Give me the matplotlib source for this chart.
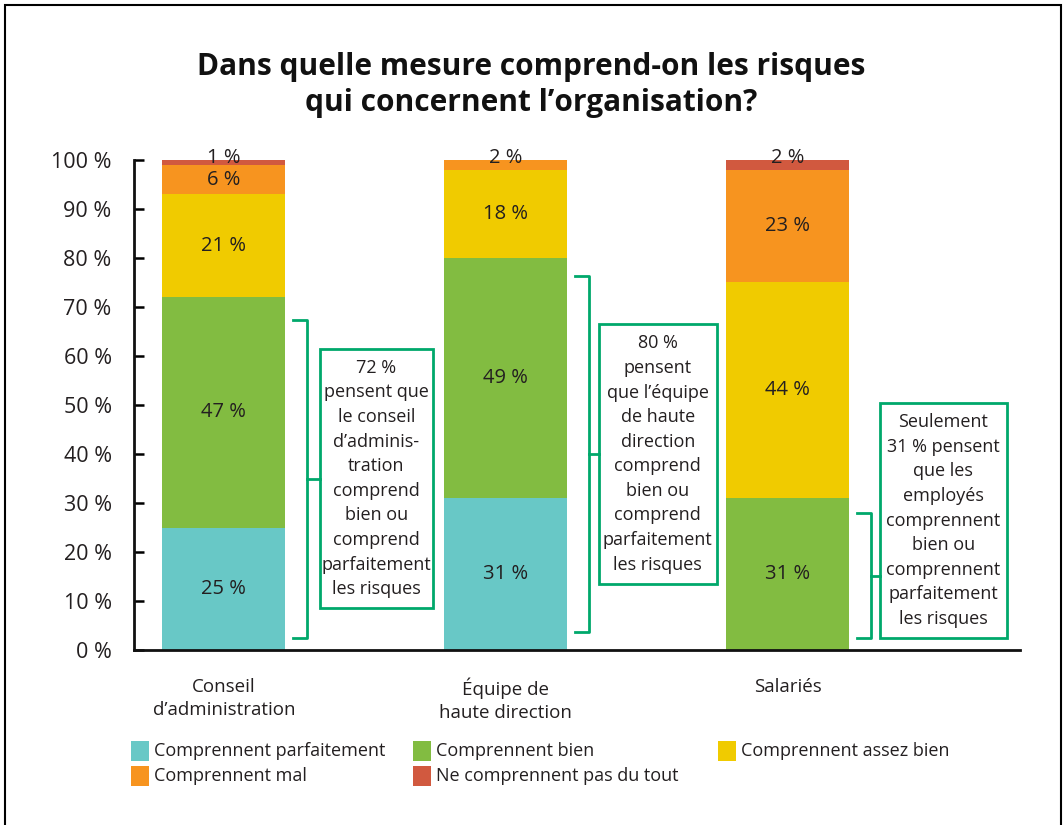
import numpy as np
import matplotlib.pyplot as plt
from matplotlib.patches import Rectangle

plt.rcParams['font.family'] = ['Open Sans', 'DejaVu Sans']

# ===================== Data =====================
groups = ['Conseil\nd’administration', 'Équipe de\nhaute direction', 'Salariés']
levels = ['Comprennent parfaitement', 'Comprennent bien', 'Comprennent assez bien',
          'Comprennent mal', 'Ne comprennent pas du tout']
colors = ['#68C8C6', '#82BC41', '#F0CB00', '#F7941F', '#D1593F']

parfaitement = [25, 31, 0]
bien = [47, 49, 31]
assez_bien = [21, 18, 44]
mal = [6, 2, 23]
pas_du_tout = [1, 0, 2]
series = [parfaitement, bien, assez_bien, mal, pas_du_tout]

yticks = [0, 10, 20, 30, 40, 50, 60, 70, 80, 90, 100]

notes = [
    '72 %\npensent que\nle conseil\nd’adminis-\ntration\ncomprend\nbien ou\ncomprend\nparfaitement\nles risques',
    '80 %\npensent\nque l’équipe\nde haute\ndirection\ncomprend\nbien ou\ncomprend\nparfaitement\nles risques',
    'Seulement\n31 % pensent\nque les\nemployés\ncomprennent\nbien ou\ncomprennent\nparfaitement\nles risques',
]
# bracket extent (y) and box extent (x offset from bar centre, y)
bracket_spans = [(2.5, 67.3), (3.7, 76.3), (2.4, 28.0)]
bracket_mid = [34.9, 40.0, 15.1]
box_spans = [((0.340, 0.741), (8.6, 61.4)),
             ((0.330, 0.748), (13.5, 66.5)),
             ((0.326, 0.777), (2.4, 50.4))]

TXT = '#231F20'
GREEN = '#00A86B'

# ===================== Figure =====================
fig = plt.figure(figsize=(10.63, 8.25), dpi=100)
ax = fig.add_axes([0.126, 0.2121, 0.8335, 0.594])

x = np.arange(len(groups))
width = 0.436
bottom = np.zeros(len(groups))
for vals, c in zip(series, colors):
    vals = np.array(vals, dtype=float)
    ax.bar(x, vals, width=width, bottom=bottom, color=c, lw=0, zorder=2)
    for xi, b, v in zip(x, bottom, vals):
        if v > 0:
            # thin top slices get their label on the bar top
            yl = b + v + 0.5 if v <= 2 else b + v / 2
            ax.text(xi, yl, f'{int(v)} %', ha='center', va='center',
                    fontsize=14.5, color=TXT, zorder=3)
    bottom += vals

ax.set_xlim(-0.319, 2.823)
ax.set_ylim(0, 100)
ax.set_yticks(yticks)
ax.set_yticklabels([f'{v} %' for v in yticks])
ax.set_xticks(x)
ax.set_xticklabels(groups, linespacing=1.36)
ax.tick_params(axis='y', direction='in', length=7, width=1.8, pad=16,
               labelsize=15.5, labelcolor=TXT)
ax.tick_params(axis='x', length=0, pad=20, labelsize=13.5, labelcolor=TXT)
for s in ['top', 'right']:
    ax.spines[s].set_visible(False)
for s in ['left', 'bottom']:
    ax.spines[s].set_linewidth(2)
    ax.spines[s].set_color('#111111')

# ===================== Brackets and notes =====================
for i, note in enumerate(notes):
    y0, y1 = bracket_spans[i]
    xa, xb = x[i] + 0.245, x[i] + 0.295
    (bx0, bx1), (by0, by1) = box_spans[i]
    ax.plot([xa, xb, xb, xa], [y1, y1, y0, y0], color=GREEN, lw=2, clip_on=False)
    ax.plot([xb, x[i] + bx0], [bracket_mid[i]] * 2, color=GREEN, lw=2, clip_on=False)
    ax.add_patch(Rectangle((x[i] + bx0, by0), bx1 - bx0, by1 - by0, fill=False,
                           ec=GREEN, lw=2, clip_on=False, zorder=4))
    ax.text(x[i] + (bx0 + bx1) / 2, (by0 + by1) / 2, note, ha='center', va='center',
            fontsize=13, color=TXT, linespacing=1.47)

# ===================== Title =====================
fig.text(0.5, 0.897, 'Dans quelle mesure comprend-on les risques\nqui concernent l’organisation?',
         ha='center', va='center', fontsize=21.5, fontweight='bold', color='#111111',
         linespacing=1.25)

# ===================== Legend =====================
leg_pos = [(131, 751), (413, 751), (718, 751), (131, 776), (413, 776)]
W, H = 1063, 825
for (px, py), lab, c in zip(leg_pos, levels, colors):
    fig.add_artist(Rectangle((px / W, 1 - (py + 10) / H), 18 / W, 20 / H,
                             transform=fig.transFigure, color=c, lw=0))
    fig.text((px + 23) / W, 1 - py / H, lab, ha='left', va='center',
             fontsize=13, color=TXT)

# frame
fig.add_artist(Rectangle((5 / W, -0.1), (1061 - 5) / W, 1.1 - 5 / H,
                         transform=fig.transFigure, fill=False, ec='black', lw=1.5))

plt.savefig('out.png', dpi=100)
